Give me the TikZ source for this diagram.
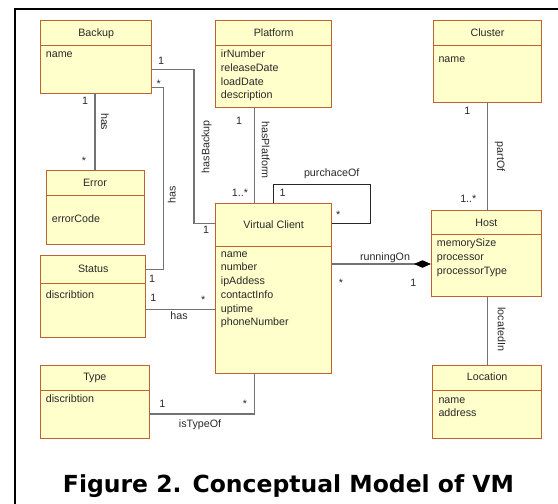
\documentclass[tikz,border=0pt]{standalone}
\usepackage{fontspec}
\setmainfont{Liberation Sans}
\newfontfamily\capfont{DejaVu Sans}
\usetikzlibrary{arrows.meta}
\definecolor{boxfill}{RGB}{255,255,204}
\definecolor{boxline}{RGB}{192,98,48}
\definecolor{conn}{RGB}{115,115,115}
\definecolor{txt}{RGB}{40,40,40}
\newcommand\umlbox[8]{% name x1 y1 x2 y2 divider titlebaseline title
  \node[clsbox, anchor=north west, minimum width={(#4-#2)*1pt}, minimum height={(#5-#3)*1pt}] (#1) at (#2,#3) {};
  \draw[clsline] (#1.west |- 0,#6) -- (#1.east |- 0,#6);
  \node[ttl] (#1-t) at ({(#2+#4)/2},#7) {#8};
}
\newcommand\umlattrs[5]{% name x firstbaseline spacing list
  \foreach \t [count=\i] in {#5} \node[attr] (#1-a\i) at (#2,{#3+(\i-1)*#4}) {\t};
}
\begin{document}
\begin{tikzpicture}[x=1pt,y=-1pt,
 clsbox/.style={draw=boxline, fill=boxfill, line width=1pt, inner sep=0pt, outer sep=0pt},
 clsline/.style={draw=boxline, line width=1pt},
 ttl/.style={font=\fontsize{10.7}{13}\selectfont, text=txt, inner sep=0pt, anchor=base},
 attr/.style={font=\fontsize{10.7}{13}\selectfont, text=txt, inner sep=0pt, anchor=base west},
 lab/.style={font=\fontsize{10.7}{13}\selectfont, text=txt, inner sep=0pt},
 assoc/.style={draw=conn, line width=1.3pt},
 selfassoc/.style={draw=black!85, line width=1pt},
]
\useasboundingbox (0,0) rectangle (558,504);
\draw[line width=2pt] (15,504) -- (15,9) -- (558,9);

% classes
\umlbox{backup}{40.7}{20.7}{151.7}{93.3}{45.3}{36}{Backup}
\umlattrs{backup}{45.7}{57.2}{13.7}{name}
\umlbox{platform}{215.7}{20.7}{331.7}{107.3}{45.3}{36}{Platform}
\umlattrs{platform}{220.7}{57.8}{13.7}{irNumber,releaseDate,loadDate,description}
\umlbox{cluster}{433.3}{20.7}{541.7}{102.3}{45.3}{36}{Cluster}
\umlattrs{cluster}{438.3}{62.5}{13.7}{name}
\umlbox{error}{46}{170.7}{144}{244}{195.3}{186}{Error}
\umlattrs{error}{51.7}{222.3}{13.7}{errorCode}
\umlbox{vc}{215.7}{203.3}{331.7}{373.3}{246.7}{228}{Virtual Client}
\umlattrs{vc}{220.7}{257.2}{13.7}{name,number,ipAddess,contactInfo,uptime,phoneNumber}
\umlbox{status}{40.7}{255.7}{145.7}{337.3}{283.3}{272.3}{Status}
\umlattrs{status}{45.7}{298.3}{13.7}{discribtion}
\umlbox{type}{40.7}{365.7}{149}{438.3}{390}{380.7}{Type}
\umlattrs{type}{45.7}{402.6}{13.7}{discribtion}
\umlbox{host}{431}{210.7}{541.7}{296.7}{234.3}{226.3}{Host}
\umlattrs{host}{436.7}{246.6}{14}{memorySize,processor,processorType}
\umlbox{location}{432.7}{365.7}{541.7}{438.3}{390}{380.7}{Location}
\umlattrs{location}{438.3}{403.4}{13.5}{name,address}

% connectors
\draw[assoc] (error.north |- backup.south) -- (error.north);
\draw[assoc] (backup.east |- 0,69.3) -- (194,69.3) |- (vc.west |- 0,223.3);
\draw[assoc] (backup.east |- 0,87.7) -- (163.3,87.7) |- (status.east |- 0,269.3);
\draw[assoc] (254.3,0 |- platform.south) -- (254.3,0 |- vc.north);
\draw[selfassoc] (273.3,0 |- vc.north) |- (370.3,184.7) |- (vc.east |- 0,223.7);
\draw[assoc] (487.3,0 |- cluster.south) -- (487.3,0 |- host.north);
\draw[assoc, -{Diamond[length=17pt,width=7.5pt,color=black]}] (vc.east |- 0,264) -- (host.west |- 0,264);
\draw[assoc] (487.3,0 |- host.south) -- (487.3,0 |- location.north);
\draw[assoc] (status.east |- 0,309.5) -- (vc.west |- 0,309.5);
\draw[assoc] (type.east |- 0,414) -| (254.3,0 |- vc.south);

% labels
\node[lab] (l1) at (85,100.5) {1};
\node[lab] (l2) at (84,161) {*};
\node[lab, rotate=-90] (l3) at (105,121.7) {has};
\node[lab] (l4) at (161,60.7) {1};
\node[lab] (l5) at (206,230) {1};
\node[lab, rotate=90] (l6) at (206.7,146.7) {hasBackup};
\node[lab] (l7) at (158.7,84) {*};
\node[lab] (l8) at (152,279) {1};
\node[lab, rotate=90] (l9) at (171.7,195) {has};
\node[lab] (l10) at (239,121) {1};
\node[lab] (l11) at (240,192.5) {1..*};
\node[lab, rotate=-90] (l12) at (265.7,150) {hasPlatform};
\node[lab] (l13) at (331.7,173.7) {purchaceOf};
\node[lab] (l14) at (282.7,193.3) {1};
\node[lab] (l15) at (338.3,215.3) {*};
\node[lab] (l16) at (467.3,111) {1};
\node[lab] (l17) at (468.3,199) {1..*};
\node[lab, rotate=-90] (l18) at (500,156.7) {partOf};
\node[lab] (l19) at (385,257.3) {runningOn};
\node[lab] (l20) at (341,282.7) {*};
\node[lab] (l21) at (413.3,283.3) {1};
\node[lab, rotate=-90] (l22) at (501.7,329.3) {locatedIn};
\node[lab] (l23) at (153.3,297.7) {1};
\node[lab] (l24) at (203.3,300) {*};
\node[lab] (l25) at (179,316) {has};
\node[lab] (l26) at (162.3,404.3) {1};
\node[lab] (l27) at (245,404.3) {*};
\node[lab] (l28) at (200,425) {isTypeOf};

% caption
\node[font={\capfont\bfseries\fontsize{23.5}{28}\selectfont}, inner sep=0pt, anchor=base] (cap) at (288.5,492) {Figure 2. Conceptual Model of VM};
\end{tikzpicture}
\end{document}
